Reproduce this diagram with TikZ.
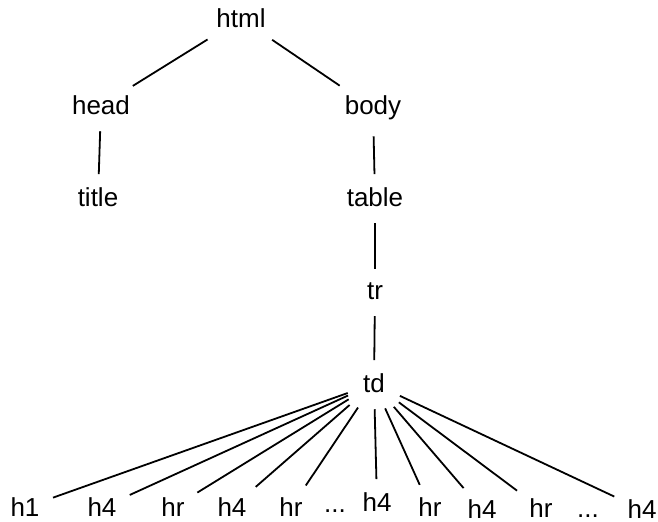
\documentclass[tikz,border=0pt]{standalone}
\usepackage{fontspec}
\setmainfont{Liberation Sans}
\begin{document}
\begin{tikzpicture}
  [x=0.5pt, y=-0.5pt]
  \tikzstyle{tag}  = [inner sep=3pt, outer sep=0pt, anchor=base, font=\fontsize{13}{15}\selectfont];
  \tikzstyle{edge} = [draw=black, line width=0.9pt, shorten <=5pt, shorten >=4pt];

  \useasboundingbox (0, 0) rectangle (658, 522);

  \node[tag] (html)  at (241, 28) {html};

  \node[tag] (head)  at (101, 115) {head};
  \node[tag] (body)  at (373, 115) {body};

  \node[tag] (title) at (98, 207) {title};
  \node[tag] (table) at (375, 207) {table};

  \node[tag] (tr) at (375, 300) {tr};
  \node[tag] (td) at (374, 393) {td};

  \node[tag] (e1)  at (25, 517)  {h1};
  \node[tag] (e2)  at (102, 517) {h4};
  \node[tag] (e3)  at (173, 517) {hr};
  \node[tag] (e4)  at (232, 517) {h4};
  \node[tag] (e5)  at (291, 517) {hr};
  \node[tag] (d1)  at (335, 513) {...};
  \node[tag] (e6)  at (377, 512) {h4};
  \node[tag] (e7)  at (430, 517) {hr};
  \node[tag] (e8)  at (482, 519) {h4};
  \node[tag] (e9)  at (541, 518) {hr};
  \node[tag] (d2)  at (588, 518) {...};
  \node[tag] (e10) at (642, 519) {h4};

  \draw[edge] (html) -- (head);
  \draw[edge] (html) -- (body);
  \draw[edge] (head) -- (title);
  \draw[edge] (body) -- (table);
  \draw[edge] (table) -- (tr);
  \draw[edge] (tr) -- (td);

  \draw[edge] (td) -- (e1);
  \draw[edge] (td) -- (e2);
  \draw[edge] (td) -- (e3);
  \draw[edge] (td) -- (e4);
  \draw[edge] (td) -- (e5);
  \draw[edge] (td) -- (e6);
  \draw[edge] (td) -- (e7);
  \draw[edge] (td) -- (e8);
  \draw[edge] (td) -- (e9);
  \draw[edge] (td) -- (e10);

\end{tikzpicture}
\end{document}
